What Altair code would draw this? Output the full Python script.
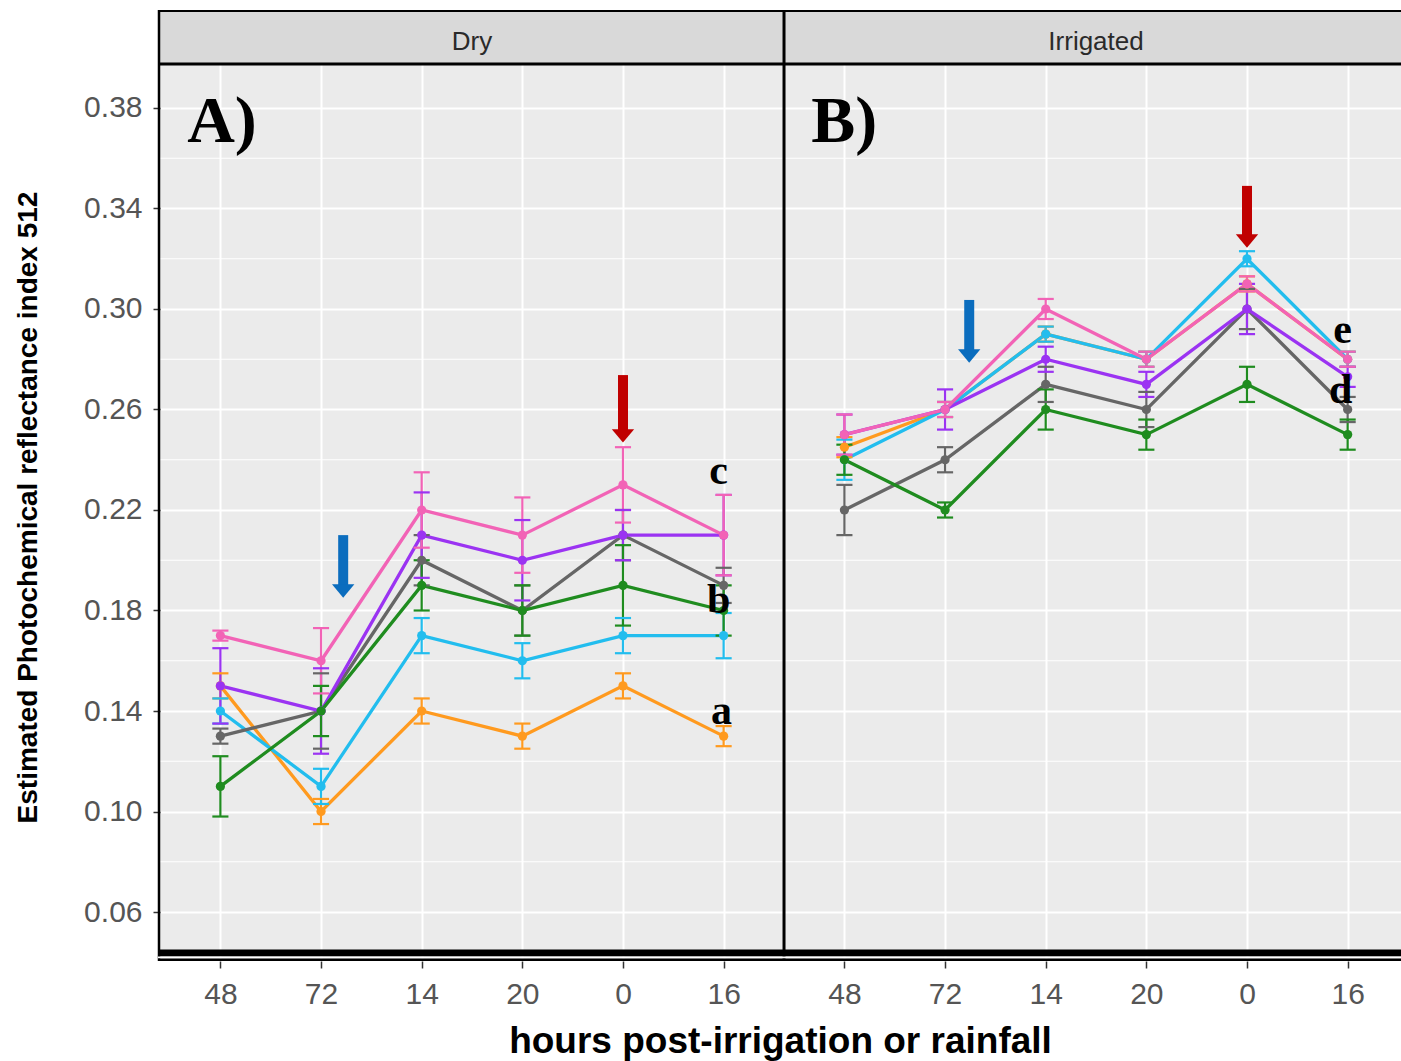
import json
import altair as alt
import pandas as pd

# ---------------- data ----------------
hours = ["48", "72", "14", "20", "0", "16"]
panels = ["Dry", "Irrigated"]
series = ["orange", "cyan", "gray", "purple", "pink", "green"]
series_colors = ["#FF9A1F", "#22BDEE", "#666666", "#9B33F2", "#F263B6", "#1F8C1F"]

dry_orange = [0.150, 0.100, 0.140, 0.130, 0.150, 0.130]
dry_cyan = [0.140, 0.110, 0.170, 0.160, 0.170, 0.170]
dry_gray = [0.130, 0.140, 0.200, 0.180, 0.210, 0.190]
dry_purple = [0.150, 0.140, 0.210, 0.200, 0.210, 0.210]
dry_pink = [0.170, 0.160, 0.220, 0.210, 0.230, 0.210]
dry_green = [0.110, 0.140, 0.190, 0.180, 0.190, 0.180]

dry_orange_se = [0.005, 0.005, 0.005, 0.005, 0.005, 0.004]
dry_cyan_se = [0.005, 0.007, 0.007, 0.007, 0.007, 0.009]
dry_gray_se = [0.003, 0.015, 0.010, 0.010, 0.010, 0.007]
dry_purple_se = [0.015, 0.017, 0.017, 0.016, 0.010, 0.016]
dry_pink_se = [0.002, 0.013, 0.015, 0.015, 0.015, 0.016]
dry_green_se = [0.012, 0.010, 0.010, 0.010, 0.016, 0.010]

irr_orange = [0.245, 0.260, 0.290, 0.280, 0.310, 0.280]
irr_cyan = [0.240, 0.260, 0.290, 0.280, 0.320, 0.280]
irr_gray = [0.220, 0.240, 0.270, 0.260, 0.300, 0.260]
irr_purple = [0.250, 0.260, 0.280, 0.270, 0.300, 0.273]
irr_pink = [0.250, 0.260, 0.300, 0.280, 0.310, 0.280]
irr_green = [0.240, 0.220, 0.260, 0.250, 0.270, 0.250]

irr_orange_se = [0.004, 0.003, 0.003, 0.003, 0.003, 0.003]
irr_cyan_se = [0.008, 0.003, 0.003, 0.003, 0.003, 0.003]
irr_gray_se = [0.010, 0.005, 0.007, 0.007, 0.008, 0.005]
irr_purple_se = [0.008, 0.008, 0.005, 0.005, 0.010, 0.004]
irr_pink_se = [0.008, 0.003, 0.004, 0.003, 0.003, 0.003]
irr_green_se = [0.006, 0.003, 0.008, 0.006, 0.007, 0.006]

# significance letters (panel, position along hours, value)
letter_text = ["c", "b", "a", "e", "d"]
letter_panel = ["Dry", "Dry", "Dry", "Irrigated", "Irrigated"]
letter_pos = [4.95, 4.95, 4.98, 4.95, 4.93]
letter_val = [0.2355, 0.184, 0.140, 0.2916, 0.2678]

# arrows (panel, position along hours, top value, tip value, kind)
arrow_panel = ["Dry", "Dry", "Irrigated", "Irrigated"]
arrow_pos = [1.22, 4.0, 1.24, 4.0]
arrow_top = [0.210, 0.2737, 0.3036, 0.349]
arrow_tip = [0.185, 0.2467, 0.2785, 0.3243]
arrow_kind = ["blue", "red", "blue", "red"]

panel_tags = ["A)", "B)"]

y_major = [0.06, 0.10, 0.14, 0.18, 0.22, 0.26, 0.30, 0.34, 0.38]
y_minor = [0.08, 0.12, 0.16, 0.20, 0.24, 0.28, 0.32, 0.36]

# ---------------- tables ----------------
vals = {
    "Dry": [dry_orange, dry_cyan, dry_gray, dry_purple, dry_pink, dry_green],
    "Irrigated": [irr_orange, irr_cyan, irr_gray, irr_purple, irr_pink, irr_green],
}
ses = {
    "Dry": [dry_orange_se, dry_cyan_se, dry_gray_se, dry_purple_se, dry_pink_se, dry_green_se],
    "Irrigated": [irr_orange_se, irr_cyan_se, irr_gray_se, irr_purple_se, irr_pink_se, irr_green_se],
}
rows = []
for p in panels:
    for si, s in enumerate(series):
        for hi, h in enumerate(hours):
            rows.append({"panel": p, "series": s, "order": si, "hidx": hi,
                         "value": vals[p][si][hi], "se": ses[p][si][hi]})
df = pd.DataFrame(rows)

letters_df = pd.DataFrame({"panel": letter_panel, "hidx": letter_pos,
                           "value": letter_val, "text": letter_text})
arrows_df = pd.DataFrame({"panel": arrow_panel, "hidx": arrow_pos,
                          "top": arrow_top, "tip": arrow_tip, "kind": arrow_kind})
tags_df = pd.DataFrame({"panel": panels, "text": panel_tags})
strip_df = pd.DataFrame({"panel": panels})
minor_df = pd.DataFrame({"value": y_minor})

# ---------------- layout ----------------
PAD = 0.6
OFFSET = len(hours) - 1 + 2 * PAD          # 6.2 units between panel origins
XMIN, XMAX = -PAD, OFFSET + 5.53
W, H = 1241, 951
YMIN, YMAX = 0.0405, 0.419
pos_expr = f"datum.hidx + (datum.panel == 'Irrigated' ? {OFFSET} : 0)"

x_scale = alt.Scale(domain=[XMIN, XMAX], nice=False, zero=False)
y_scale = alt.Scale(domain=[YMIN, YMAX], nice=False, zero=False)

tick_vals = [i for i in range(len(hours))] + [round(i + OFFSET, 2) for i in range(len(hours))]
label_expr = (f"{json.dumps(hours)}[round(datum.value > {OFFSET - 0.5} ? "
              f"datum.value - {OFFSET} : datum.value)]")

x_axis = alt.Axis(values=tick_vals, labelExpr=label_expr, grid=True, gridColor="white",
                  gridWidth=2, domain=False, tickColor="#333333", tickSize=7, tickWidth=1.5,
                  labelColor="#555555", labelFontSize=30, labelFont="Liberation Sans",
                  labelPadding=11, title="hours post-irrigation or rainfall",
                  titleFont="Liberation Sans", titleFontSize=37, titleFontWeight="bold",
                  titleColor="black", titleX=620, titleY=80, titleAlign="center",
                  titleBaseline="middle", titleAnchor="middle")
y_axis = alt.Axis(values=y_major, format=".2f", grid=True, gridColor="white", gridWidth=2.2,
                  domain=False, tickColor="#333333", tickSize=7, tickWidth=1.5,
                  labelColor="#555555", labelFontSize=30, labelFont="Liberation Sans",
                  labelPadding=11, title="Estimated Photochemical reflectance index 512",
                  titleFont="Liberation Sans", titleFontSize=28, titleFontWeight="bold",
                  titleColor="black", titleX=-132, titleY=497, titleAngle=270,
                  titleAlign="center", titleBaseline="middle")

color_scale = alt.Scale(domain=series, range=series_colors)

base = alt.Chart(df).transform_calculate(xpos=pos_expr)

minor = alt.Chart(minor_df).mark_rule(color="white", strokeWidth=1.1).encode(
    y=alt.Y("value:Q", scale=y_scale, axis=y_axis),
    x=alt.value(0), x2=alt.value(W))

lines = base.mark_line(strokeWidth=3.3).encode(
    x=alt.X("xpos:Q", scale=x_scale, axis=x_axis),
    y=alt.Y("value:Q", scale=y_scale),
    color=alt.Color("series:N", scale=color_scale, legend=None),
    detail="panel:N", order="hidx:Q")

err = base.transform_calculate(lo="datum.value - datum.se", hi="datum.value + datum.se").mark_rule(
    strokeWidth=2.2).encode(
    x="xpos:Q", y="lo:Q", y2="hi:Q",
    color=alt.Color("series:N", scale=color_scale, legend=None))

caps = base.transform_calculate(lo="datum.value - datum.se", hi="datum.value + datum.se") \
    .transform_fold(["lo", "hi"], as_=["end", "yv"]) \
    .transform_calculate(xa="datum.xpos - 0.08", xb="datum.xpos + 0.08") \
    .mark_rule(strokeWidth=2.2).encode(
    x="xa:Q", x2="xb:Q", y="yv:Q",
    color=alt.Color("series:N", scale=color_scale, legend=None))

points = base.mark_point(filled=True, opacity=1, size=85).encode(
    x="xpos:Q", y="value:Q",
    color=alt.Color("series:N", scale=color_scale, legend=None))

letters = alt.Chart(letters_df).transform_calculate(xpos=pos_expr).mark_text(
    font="Liberation Serif", fontWeight="bold", fontSize=42, color="black",
    baseline="middle", align="center").encode(x="xpos:Q", y="value:Q", text="text:N")

arrow_colors = alt.Scale(domain=["blue", "red"], range=["#0B6DBE", "#C00000"])
shafts = alt.Chart(arrows_df).transform_calculate(xpos=pos_expr).mark_rule(
    strokeWidth=10, strokeCap="butt", y2Offset=-10).encode(
    x="xpos:Q", y="top:Q", y2="tip:Q",
    color=alt.Color("kind:N", scale=arrow_colors, legend=None))
heads = alt.Chart(arrows_df).transform_calculate(xpos=pos_expr).mark_point(
    shape="M-1,-0.6L1,-0.6L0,0.6Z", filled=True, opacity=1, size=500, yOffset=-7,
    strokeWidth=0).encode(
    x="xpos:Q", y="tip:Q",
    color=alt.Color("kind:N", scale=arrow_colors, legend=None))

tags = alt.Chart(tags_df).transform_calculate(
    xpos=f"-0.33 + (datum.panel == 'Irrigated' ? {OFFSET} : 0)").mark_text(
    font="Liberation Serif", fontWeight="bold", fontSize=66, color="black",
    align="left", baseline="middle").encode(
    x="xpos:Q", y=alt.value(112), text="text:N")

# strip (facet header) and panel borders
strip_bg = alt.Chart(strip_df).mark_rect(color="#D9D9D9").encode(
    x=alt.value(0), x2=alt.value(W), y=alt.value(0), y2=alt.value(54))
strip_txt = alt.Chart(strip_df).transform_calculate(
    xpos=f"{(len(hours) - 1) / 2} + (datum.panel == 'Irrigated' ? {OFFSET} : 0)").mark_text(
    font="Liberation Sans", fontSize=26, color="#2A2A2A", baseline="middle").encode(
    x="xpos:Q", y=alt.value(32), text="panel:N")

border = alt.Chart(strip_df.head(1))
top_line = border.mark_rule(color="black", strokeWidth=2).encode(
    x=alt.value(0), x2=alt.value(W), y=alt.value(1))
strip_line = border.mark_rule(color="black", strokeWidth=3).encode(
    x=alt.value(0), x2=alt.value(W), y=alt.value(54))
left_line = border.mark_rule(color="black", strokeWidth=2.5).encode(
    x=alt.value(-1), y=alt.value(0), y2=alt.value(H))
sep_line = border.mark_rule(color="black", strokeWidth=3).encode(
    x=alt.datum(OFFSET - PAD), y=alt.value(0), y2=alt.value(H))
bottom_thick = border.mark_rule(color="black", strokeWidth=7).encode(
    x=alt.value(-2), x2=alt.value(W), y=alt.value(943))
bottom_gap = border.mark_rule(color="white", strokeWidth=2).encode(
    x=alt.value(-2), x2=alt.value(W), y=alt.value(947.5))
bottom_thin = border.mark_rule(color="black", strokeWidth=2.4).encode(
    x=alt.value(-2), x2=alt.value(W), y=alt.value(949.8))

chart = alt.layer(
    minor, lines, err, caps, points, letters, shafts, heads, tags,
    strip_bg, strip_txt, top_line, strip_line, left_line, sep_line,
    bottom_thick, bottom_gap, bottom_thin
).resolve_scale(color="independent").properties(
    width=W, height=H,
    padding={"left": 160, "top": 10, "right": 0, "bottom": 100},
    autosize=alt.AutoSizeParams(type="none"),
    background="white",
).configure_view(fill="#EBEBEB", stroke=None)

chart.save("out.html", embed_options={"renderer": "svg", "actions": False})
